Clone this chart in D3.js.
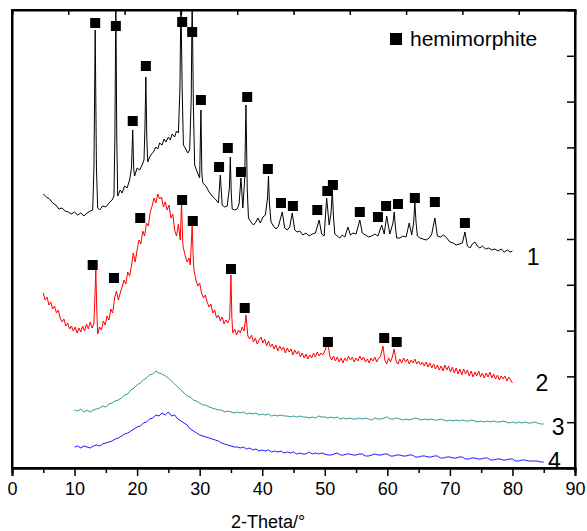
<!DOCTYPE html>
<html>
<head>
<meta charset="utf-8">
<script src="https://cdn.jsdelivr.net/npm/d3@7"></script>
<style>
  html, body { margin: 0; padding: 0; background: #fff; }
  svg { display: block; font-family: "Liberation Sans", Arial, sans-serif; }
</style>
</head>
<body>
<svg id="chart" width="587" height="531"></svg>
<script>
// XRD patterns, 2-Theta (deg) vs. intensity (a.u., offset stacked)
const pattern1 = [
  [5.0,274],[5.5,271],[6.0,269],[6.5,265],[7.0,263],[7.5,259],[8.0,260],[8.5,257],[9.0,256],[9.5,254],
  [10.0,256],[10.5,253],[11.0,255],[11.5,252],[12.0,255],[12.5,257],[12.9,258],[13.1,300],[13.3,438],[13.5,300],[13.7,260],
  [14.0,258],[14.5,262],[15.0,261],[15.5,265],[16.0,268],[16.3,272],[16.45,330],[16.6,470],[16.75,330],[16.9,272],
  [17.3,278],[17.6,275],[18.0,282],[18.4,280],[18.8,288],[19.1,300],[19.3,338],[19.45,300],[19.6,292],
  [20.0,300],[20.4,298],[20.8,303],[21.1,308],[21.25,340],[21.4,391],[21.55,330],[21.7,306],
  [22.0,311],[22.3,314],[22.6,316],[23.0,321],[23.3,319],[23.6,325],[24.0,323],[24.3,329],[24.6,326],
  [25.0,331],[25.3,328],[25.6,334],[26.0,331],[26.3,337],[26.6,335],[26.85,380],[27.0,470],[27.2,380],[27.4,323],
  [27.7,320],[28.1,315],[28.4,318],[28.65,370],[28.8,470],[29.0,360],[29.2,303],[29.6,296],
  [30.0,290],[30.2,358],[30.35,295],[30.5,285],[31.0,282],[31.5,276],[32.0,272],[32.5,269],[33.0,265],[33.3,293],[33.6,263],
  [34.0,261],[34.4,262],[34.75,280],[34.9,311],[35.05,275],[35.2,259],[35.6,258],[36.0,259],[36.3,264],[36.6,290],[36.9,260],
  [37.2,290],[37.4,363],[37.6,280],[37.8,250],[38.2,246],[38.6,243],[39.0,246],[39.3,250],[39.7,245],[40.1,251],[40.5,253],
  [40.85,270],[41.0,292],[41.15,265],[41.4,246],[41.8,242],[42.2,239],[42.6,242],[43.2,256],[43.6,240],[44.0,238],[44.4,241],
  [44.8,255],[45.2,238],[45.6,236],[46.0,237],[46.5,233],[47.0,235],[47.5,232],[48.0,234],[48.5,235],[49.1,248],[49.5,234],
  [49.9,232],[50.3,270],[50.7,243],[51.0,255],[51.2,278],[51.4,250],[51.6,234],[52.0,232],[52.4,230],[52.8,233],[53.2,231],
  [53.7,241],[54.1,233],[54.5,235],[55.0,234],[55.6,248],[56.0,235],[56.5,233],[57.0,231],[57.5,232],[58.0,234],[58.5,232],
  [59.1,243],[59.5,234],[59.9,252],[60.4,234],[60.9,245],[61.1,256],[61.3,240],[61.5,230],[62.0,230],[62.5,232],[63.0,231],
  [63.5,245],[63.9,233],[64.2,245],[64.4,265],[64.6,245],[64.8,232],[65.2,230],[65.7,229],[66.2,228],[66.7,230],[67.1,234],
  [67.6,250],[68.0,232],[68.5,231],[69.0,233],[69.5,230],[70.0,226],[70.5,225],[71.0,223],[71.5,224],[72.0,225],[72.4,236],
  [72.8,222],[73.2,220],[73.6,224],[74.0,226],[74.4,222],[74.8,220],[75.2,222],[75.7,219],[76.2,220],[76.7,218],[77.2,219],
  [77.7,217],[78.2,219],[78.7,216],[79.2,218],[79.6,216],[80.0,217]
];

const pattern2 = [
  [5.0,175],[5.3,168],[5.6,171],[5.9,163],[6.2,166],[6.5,159],[6.8,162],[7.1,155],[7.4,158],[7.7,150],
  [8.0,146],[8.3,149],[8.6,142],[8.9,145],[9.2,139],[9.5,142],[9.8,137],[10.1,141],[10.4,135],[10.7,140],
  [11.0,136],[11.3,142],[11.6,137],[11.9,144],[12.2,139],[12.5,146],[12.8,140],[13.1,145],[13.25,170],[13.4,198],[13.55,160],[13.7,134],
  [14.0,141],[14.3,138],[14.6,147],[14.9,143],[15.2,152],[15.5,148],[15.8,159],[16.1,155],[16.4,170],[16.7,177],
  [17.0,168],[17.3,175],[17.6,181],[17.9,188],[18.2,184],[18.5,196],[18.8,192],[19.1,202],[19.4,215],[19.7,206],
  [20.0,218],[20.3,228],[20.6,224],[20.9,237],[21.2,232],[21.5,245],[21.8,242],[22.1,256],[22.4,262],[22.7,270],
  [23.0,265],[23.3,274],[23.6,269],[23.9,271],[24.2,261],[24.5,266],[24.8,258],[25.1,263],[25.4,250],[25.7,254],
  [26.0,238],[26.3,232],[26.6,244],[26.9,228],[27.1,266],[27.3,225],[27.4,220],[27.7,212],[28.0,206],[28.3,210],[28.5,203],
  [28.8,243],[29.0,205],[29.1,198],[29.4,188],[29.7,182],[30.0,185],[30.3,175],[30.6,170],[30.9,173],[31.2,166],[31.5,161],
  [31.8,164],[32.1,155],[32.4,158],[32.7,150],[33.0,153],[33.3,147],[33.6,151],[33.9,144],[34.2,148],[34.5,145],
  [34.8,150],[35.0,193],[35.15,150],[35.3,135],[35.6,139],[35.9,133],[36.2,138],[36.5,135],[36.8,141],[37.1,137],[37.4,153],
  [37.7,132],[38.0,129],[38.3,133],[38.6,126],[38.9,130],[39.2,124],[39.5,128],[39.8,131],[40.1,125],[40.4,129],
  [40.7,122],[41.0,127],[41.3,121],[41.6,124],[41.9,119],[42.2,123],[42.5,117],[42.8,122],[43.1,118],[43.4,121],
  [43.7,115],[44.0,120],[44.3,116],[44.6,119],[44.9,113],[45.2,118],[45.5,114],[45.8,117],[46.1,111],[46.4,115],
  [46.7,110],[47.0,114],[47.3,109],[47.6,113],[47.9,110],[48.2,115],[48.5,111],[48.8,116],[49.1,112],[49.4,115],
  [49.7,113],[50.0,117],[50.5,125],[50.8,112],[51.1,108],[51.4,112],[51.7,107],[52.0,111],[52.3,106],[52.6,110],
  [52.9,105],[53.2,110],[53.5,107],[53.8,112],[54.1,108],[54.4,111],[54.7,106],[55.0,110],[55.3,107],[55.6,112],
  [55.9,108],[56.2,111],[56.5,106],[56.8,109],[57.1,105],[57.4,110],[57.7,107],[58.0,111],[58.3,106],[58.6,110],
  [58.9,111],[59.3,122],[59.6,108],[59.9,104],[60.2,110],[60.5,106],[60.8,111],[61.1,119],[61.4,107],[61.7,104],
  [62.0,109],[62.3,105],[62.6,110],[62.9,106],[63.2,109],[63.5,104],[63.8,108],[64.1,105],[64.4,109],[64.7,104],
  [65.0,107],[65.3,103],[65.6,106],[65.9,102],[66.2,106],[66.5,101],[66.8,105],[67.1,100],[67.4,104],[67.7,99],
  [68.0,103],[68.3,98],[68.6,102],[68.9,97],[69.2,103],[69.5,98],[69.8,102],[70.1,96],[70.4,101],[70.7,95],
  [71.0,100],[71.3,94],[71.6,99],[71.9,93],[72.2,99],[72.5,94],[72.8,98],[73.1,92],[73.4,97],[73.7,91],
  [74.0,96],[74.3,92],[74.6,97],[74.9,91],[75.2,95],[75.5,90],[75.8,95],[76.1,91],[76.4,96],[76.7,90],
  [77.0,94],[77.3,89],[77.6,93],[77.9,88],[78.2,92],[78.5,89],[78.8,92],[79.1,87],[79.4,91],[79.7,88],[80.0,85]
];

const pattern3 = [
  [10.0,58],[10.5,57],[11.0,59],[11.5,56],[12.0,58],[12.5,56],[13.0,58],[13.5,59],[14.0,60],[14.5,62],
  [15.0,61],[15.5,64],[16.0,65],[16.5,67],[17.0,68],[17.5,70],[18.0,73],[18.5,74],[19.0,78],[19.5,80],
  [20.0,83],[20.5,85],[21.0,88],[21.5,90],[22.0,93],[22.5,94],[23.0,97],[23.5,95],[24.0,94],[24.5,92],
  [25.0,90],[25.5,87],[26.0,84],[26.5,81],[27.0,78],[27.5,75],[28.0,72],[28.5,71],[29.0,68],[29.5,67],
  [30.0,65],[30.5,63],[31.0,63],[31.5,61],[32.0,60],[32.5,59],[33.0,58],[33.5,58],[34.0,56],[34.5,57],
  [35.0,56],[35.5,55],[36.0,56],[36.5,55],[37.0,56],[37.5,54],[38.0,55],[38.5,54],[39.0,55],[39.5,53],
  [40.0,54],[40.5,53],[41.0,54],[41.5,52],[42.0,53],[42.5,52],[43.0,53],[43.5,52],[44.0,52],[44.5,51],
  [45.0,52],[45.5,51],[46.0,52],[46.5,51],[47.0,51],[47.5,50],[48.0,51],[48.5,50],[49.0,52],[49.5,51],
  [50.0,51],[50.5,50],[51.0,51],[51.5,50],[52.0,51],[52.5,49],[53.0,50],[53.5,49],[54.0,50],[54.5,49],
  [55.0,49],[55.5,50],[56.0,49],[56.5,50],[57.0,49],[57.5,48],[58.0,50],[58.5,49],[59.0,49],[59.5,50],
  [60.0,51],[60.5,49],[61.0,49],[61.5,50],[62.0,49],[62.5,48],[63.0,49],[63.5,48],[64.0,49],[64.5,50],
  [65.0,49],[65.5,48],[66.0,49],[66.5,48],[67.0,49],[67.5,48],[68.0,48],[68.5,49],[69.0,48],[69.5,47],
  [70.0,48],[70.5,47],[71.0,48],[71.5,47],[72.0,48],[72.5,47],[73.0,47],[73.5,48],[74.0,47],[74.5,46],
  [75.0,47],[75.5,46],[76.0,47],[76.5,46],[77.0,47],[77.5,46],[78.0,46],[78.5,47],[79.0,46],[79.5,45],
  [80.0,46],[80.5,45],[81.0,46],[81.5,45],[82.0,46],[82.5,45],[83.0,45],[83.5,46],[84.0,45],[84.5,44],[85.0,44]
];

const pattern4 = [
  [10.0,21],[10.5,22],[11.0,20],[11.5,22],[12.0,21],[12.5,20],[13.0,22],[13.5,23],[14.0,22],[14.5,24],
  [15.0,25],[15.5,26],[16.0,27],[16.5,29],[17.0,30],[17.5,32],[18.0,34],[18.5,35],[19.0,37],[19.5,39],
  [20.0,41],[20.5,42],[21.0,45],[21.5,46],[22.0,49],[22.5,50],[23.0,53],[23.5,52],[24.0,55],[24.5,53],
  [25.0,56],[25.5,52],[26.0,53],[26.5,49],[27.0,47],[27.5,45],[28.0,43],[28.5,39],[29.0,37],[29.5,35],
  [30.0,33],[30.5,32],[31.0,31],[31.5,30],[32.0,29],[32.5,28],[33.0,27],[33.5,25],[34.0,24],[34.5,23],
  [35.0,22],[35.5,21],[36.0,21],[36.5,20],[37.0,21],[37.5,19],[38.0,20],[38.5,18],[39.0,19],[39.5,17],
  [40.0,18],[40.5,17],[41.0,18],[41.5,16],[42.0,17],[42.5,16],[43.0,17],[43.5,15],[44.0,16],[44.5,15],
  [45.0,16],[45.5,14],[46.0,15],[46.5,14],[47.0,14],[47.5,16],[48.0,14],[48.5,15],[49.0,14],[49.5,15],
  [50.0,14],[50.5,13],[51.0,13],[51.5,14],[52.0,15],[52.5,13],[53.0,13],[53.5,14],[54.0,14],[54.5,13],
  [55.0,13],[55.5,14],[56.0,14],[56.5,12],[57.0,12],[57.5,13],[58.0,14],[58.5,13],[59.0,13],[59.5,14],
  [60.0,14],[60.5,12],[61.0,12],[61.5,13],[62.0,13],[62.5,12],[63.0,12],[63.5,13],[64.0,13],[64.5,11],
  [65.0,11],[65.5,12],[66.0,12],[66.5,11],[67.0,11],[67.5,12],[68.0,12],[68.5,10],[69.0,10],[69.5,11],
  [70.0,11],[70.5,10],[71.0,10],[71.5,11],[72.0,11],[72.5,9],[73.0,9],[73.5,10],[74.0,10],[74.5,9],
  [75.0,9],[75.5,10],[76.0,10],[76.5,8],[77.0,8],[77.5,9],[78.0,9],[78.5,8],[79.0,8],[79.5,9],
  [80.0,9],[80.5,7],[81.0,7],[81.5,8],[82.0,8],[82.5,7],[83.0,7],[83.5,7],[84.0,7],[84.5,6],[85.0,6]
];

// hemimorphite reflections marked on patterns 1 and 2
const markers1 = [
  [13.3,445],[16.6,442],[19.3,347],[21.4,402],[27.2,446],[28.8,436],[30.2,368],[33.1,301],[34.5,320],
  [36.6,296],[37.6,371],[40.9,299],[43.0,265],[44.9,262],[48.8,258],[50.4,277],[51.3,283],[55.6,256],
  [58.5,251],[59.8,262],[61.7,264],[64.4,270],[67.6,266],[72.4,245]
];
const markers2 = [
  [12.9,203],[16.3,190],[20.5,250],[27.2,268],[28.9,247],[35.0,199],[37.2,160],[50.5,126],[59.5,130],[61.5,126]
];

const xTicks = [0, 10, 20, 30, 40, 50, 60, 70, 80, 90];
const seriesNames = ["1", "2", "3", "4"];
const seriesColors = ["#000000", "#ff0000", "#2e9a94", "#1a1aff"];
const labelPos = [[83.3, 211], [84.7, 85], [87.3, 41], [86.7, 7]];
const legendLabel = "hemimorphite";
const xTitle = "2-Theta/\u00b0";

const svg = d3.select("#chart");
const x = d3.scaleLinear().domain([0, 90]).range([12, 575]);
const y = d3.scaleLinear().domain([0, 458]).range([468, 10]);

svg.append("defs").append("clipPath").attr("id", "plot")
  .append("rect").attr("x", 12).attr("y", 10).attr("width", 563).attr("height", 458);

const line = d3.line().x(d => x(d[0])).y(d => y(d[1]));
const patterns = [pattern1, pattern2, pattern3, pattern4];

const g = svg.append("g").attr("clip-path", "url(#plot)");
patterns.forEach((p, i) => {
  g.append("path").datum(p)
    .attr("fill", "none")
    .attr("stroke", seriesColors[i])
    .attr("stroke-width", 1)
    .attr("stroke-linejoin", "round")
    .attr("d", line);
});

const ms = 10;
[markers1, markers2].forEach(m => {
  g.selectAll(null).data(m).enter().append("rect")
    .attr("x", d => x(d[0]) - ms / 2)
    .attr("y", d => y(d[1]) - ms / 2)
    .attr("width", ms).attr("height", ms)
    .attr("fill", "#000");
});

// curve numbers
svg.selectAll(null).data(seriesNames).enter().append("text")
  .attr("x", (d, i) => x(labelPos[i][0]))
  .attr("y", (d, i) => y(labelPos[i][1]))
  .attr("text-anchor", "middle")
  .attr("dominant-baseline", "central")
  .attr("font-size", 23)
  .attr("fill", "#000")
  .text(d => d);

// legend
svg.append("rect").attr("x", 390).attr("y", 33).attr("width", 12).attr("height", 12).attr("fill", "#000");
svg.append("text").attr("x", 410).attr("y", 46).attr("font-size", 21).attr("fill", "#000").text(legendLabel);

// axes
const bottom = svg.append("g").attr("transform", "translate(0,468)")
  .call(d3.axisBottom(x).tickValues(xTicks).tickSize(8).tickPadding(6).tickFormat(d3.format("d")));
bottom.selectAll("text").attr("font-size", 18).attr("font-family", "Liberation Sans, Arial, sans-serif");
svg.append("g").attr("transform", "translate(0,468)")
  .call(d3.axisBottom(x).tickValues(d3.range(5, 90, 10)).tickSize(5).tickFormat(""));

svg.append("g").attr("transform", "translate(0,10)")
  .call(d3.axisBottom(x).tickValues(d3.range(9, 90, 9)).tickSize(5).tickFormat(""));
svg.append("g").attr("transform", "translate(575,0)")
  .call(d3.axisLeft(y).tickValues(d3.range(1, 10).map(k => k * 45.8)).tickSize(8).tickFormat(""));
svg.append("g").attr("transform", "translate(12,0)")
  .call(d3.axisLeft(y).tickValues([]).tickSize(0).tickFormat(""));

svg.selectAll(".domain").attr("stroke", "#000").attr("stroke-width", 2);
svg.selectAll(".tick line").attr("stroke", "#000").attr("stroke-width", 1.5);

// frame
svg.append("rect").attr("x", 12).attr("y", 10).attr("width", 563).attr("height", 458)
  .attr("fill", "none").attr("stroke", "#000").attr("stroke-width", 2);

svg.append("text").attr("x", 268).attr("y", 528).attr("text-anchor", "middle")
  .attr("font-size", 18).attr("fill", "#000").text(xTitle);
</script>
</body>
</html>
